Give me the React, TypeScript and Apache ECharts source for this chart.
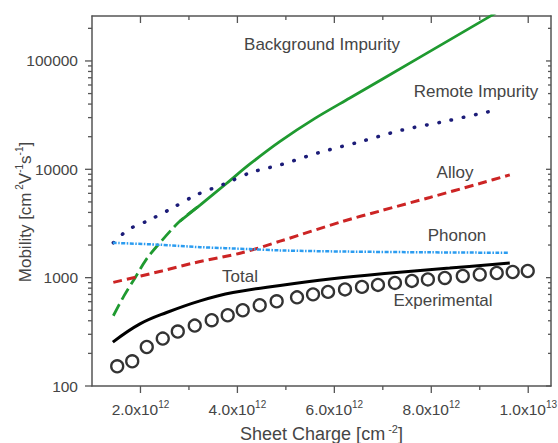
import React, { useEffect, useRef } from 'react';
import * as echarts from 'echarts';

// Axis extents (sheet charge in units of 1e12 cm^-2, mobility in cm^2/Vs)
const X_MIN = 1;
const X_MAX = 10.47;
const Y_MIN = 100;
const Y_MAX = 260000;

// Tick values and labels
const xMajorTicks = [2, 4, 6, 8, 10];
const xMinorTicks = [3, 5, 7, 9];
const xTickMantissa = ['2.0', '4.0', '6.0', '8.0', '1.0'];
const xTickExponent = ['12', '12', '12', '12', '13'];
const yMajorTicks = [100, 1000, 10000, 100000];
const yMinorTicks = [
  200, 300, 400, 500, 600, 700, 800, 900,
  2000, 3000, 4000, 5000, 6000, 7000, 8000, 9000,
  20000, 30000, 40000, 50000, 60000, 70000, 80000, 90000,
  200000,
];

// Experimental (circles)
const expCharge = [1.52, 1.83, 2.13, 2.46, 2.77, 3.12, 3.47, 3.80, 4.11, 4.46, 4.81, 5.23, 5.56, 5.87, 6.22, 6.57, 6.90, 7.25, 7.60, 7.93, 8.28, 8.65, 9.00, 9.35, 9.68, 9.99];
const expMobility = [152, 169, 229, 274, 318, 361, 405, 450, 500, 556, 605, 658, 701, 739, 779, 822, 857, 894, 933, 963, 994, 1037, 1070, 1104, 1128, 1152];

// Total
const totalCharge = [1.43, 1.99, 2.54, 3.23, 3.91, 4.88, 5.91, 7.04, 8.38, 9.62];
const totalMobility = [254, 374, 477, 611, 729, 848, 973, 1093, 1227, 1364];

// Phonon
const phononCharge = [1.43, 2.36, 3.23, 4.26, 4.88, 6.32, 7.97, 9.58];
const phononMobility = [2095, 2017, 1912, 1834, 1784, 1739, 1713, 1696];

// Alloy
const alloyCharge = [1.44, 2.44, 3.12, 4.09, 4.88, 6.18, 6.94, 7.97, 9.0, 9.62];
const alloyMobility = [904, 1152, 1373, 1696, 2171, 3313, 4119, 5500, 7393, 8886];

// Remote impurity
const remoteCharge = [1.44, 1.75, 2.16, 2.57, 3.16, 3.72, 4.29, 4.88, 5.70, 6.53, 7.39, 8.23, 9.07, 9.34];
const remoteMobility = [2095, 2780, 3362, 4180, 5823, 7285, 9386, 10975, 14321, 17955, 22990, 27390, 33130, 35070];

// Background impurity
const bgCharge = [1.44, 1.66, 1.89, 2.11, 2.37, 2.81, 3.23, 3.78, 4.26, 4.88, 5.60, 6.32, 7.76, 9.21, 9.6];
const bgMobility = [445, 679, 1000, 1453, 2025, 3313, 4674, 7440, 11200, 18100, 29500, 45500, 108000, 258000, 330000];
const BG_DASH_END = 5; // index where the dashed part turns solid

const pairs = (xs: number[], ys: number[]) => xs.map((x, i) => [x, ys[i]]);

export default function App() {
  const ref = useRef<HTMLDivElement>(null);

  useEffect(() => {
    const chart = echarts.init(ref.current!, null, { renderer: 'svg' });
    const font = 'Arial, "Liberation Sans", Helvetica, sans-serif';
    const textColor = '#454545';
    const frame = '#555555';

    const xTickData = [
      ...xMajorTicks.map((v) => [v, Y_MIN, 1]),
      ...xMinorTicks.map((v) => [v, Y_MIN, 0]),
    ];
    const yTickData = [
      ...yMajorTicks.map((v) => [X_MIN, v, 1]),
      ...yMinorTicks.map((v) => [X_MIN, v, 0]),
    ];
    const tickStyle = { stroke: frame, lineWidth: 1.3 };

    const bgData = pairs(bgCharge, bgMobility);

    const annotation = (text: string, x: number, y: number) => ({
      type: 'text',
      x,
      y,
      z: 100,
      style: {
        text,
        fill: textColor,
        font: `17px ${font}`,
        align: 'center',
        verticalAlign: 'middle',
      },
    });

    const nameRich = {
      a: { fontSize: 18, fontFamily: font, color: textColor, lineHeight: 22 },
      s: { fontSize: 11, fontFamily: font, color: textColor, lineHeight: 12, verticalAlign: 'top' },
    };

    const option: any = {
      animation: false,
      grid: {
        left: 92,
        top: 16,
        width: 459,
        height: 370,
        containLabel: false,
        outerBoundsMode: 'none',
      },
      xAxis: [
        {
          type: 'value',
          min: X_MIN,
          max: X_MAX,
          interval: 1,
          position: 'bottom',
          axisLine: { show: true, lineStyle: { color: frame, width: 1.5 } },
          axisTick: { show: false },
          splitLine: { show: false },
          axisLabel: {
            margin: 13,
            fontFamily: font,
            color: textColor,
            formatter: (v: number) => {
              const r = Math.round(v);
              if (Math.abs(v - r) > 1e-6) return '';
              const i = xMajorTicks.indexOf(r);
              if (i < 0) return '';
              return `{a|${xTickMantissa[i]}x10}{s|${xTickExponent[i]}}`;
            },
            rich: {
              a: { fontSize: 15.5, fontFamily: font, color: textColor, lineHeight: 20 },
              s: { fontSize: 10, fontFamily: font, color: textColor, lineHeight: 12, verticalAlign: 'top' },
            },
          },
          name: '{a|Sheet Charge [cm}{s| -2}{a|]}',
          nameLocation: 'middle',
          nameGap: 37,
          nameTextStyle: { rich: nameRich },
        },
        {
          type: 'value',
          min: X_MIN,
          max: X_MAX,
          position: 'top',
          axisLine: { show: true, lineStyle: { color: frame, width: 1.5 } },
          axisTick: { show: false },
          axisLabel: { show: false },
          splitLine: { show: false },
        },
      ],
      yAxis: [
        {
          type: 'log',
          logBase: 10,
          min: Y_MIN,
          max: Y_MAX,
          position: 'left',
          axisLine: { show: true, lineStyle: { color: frame, width: 1.5 } },
          axisTick: { show: false },
          splitLine: { show: false },
          axisLabel: {
            margin: 14,
            fontSize: 15.5,
            fontFamily: font,
            color: textColor,
            formatter: (v: number) => {
              const hit = yMajorTicks.find((t) => Math.abs(t - v) / t < 1e-6);
              return hit ? String(hit) : '';
            },
          },
        },
        {
          type: 'log',
          logBase: 10,
          min: Y_MIN,
          max: Y_MAX,
          position: 'right',
          axisLine: { show: true, lineStyle: { color: frame, width: 1.5 } },
          axisTick: { show: false },
          axisLabel: { show: false },
          splitLine: { show: false },
        },
      ],
      graphic: [
        {
          type: 'text',
          x: 25,
          y: 212,
          rotation: Math.PI / 2,
          z: 100,
          style: {
            text: '{a|Mobility [cm}{s| 2}{a|V}{s|-1}{a|s}{s|-1}{a|]}',
            align: 'center',
            verticalAlign: 'middle',
            rich: {
              a: { fontSize: 17, fontFamily: font, fill: textColor, lineHeight: 21 },
              s: { fontSize: 10, fontFamily: font, fill: textColor, lineHeight: 11, verticalAlign: 'top' },
            },
          },
        },
        annotation('Background Impurity', 322, 44),
        annotation('Remote Impurity', 476, 91),
        annotation('Alloy', 455, 172),
        annotation('Phonon', 457, 235),
        annotation('Total', 240, 276),
        annotation('Experimental', 443, 300),
      ],
      series: [
        {
          name: 'x ticks',
          type: 'custom',
          clip: false,
          silent: true,
          dimensions: ['x', 'y', 'major'],
          encode: { x: 0, y: 1 },
          data: xTickData,
          renderItem: (params: any, api: any) => {
            const v = api.value(0);
            const major = api.value(2) === 1;
            const b = api.coord([v, Y_MIN]);
            const t = api.coord([v, Y_MAX]);
            const len = major ? 7 : 4;
            return {
              type: 'group',
              children: [
                { type: 'line', shape: { x1: b[0], y1: b[1], x2: b[0], y2: b[1] + len }, style: tickStyle },
                { type: 'line', shape: { x1: t[0], y1: t[1], x2: t[0], y2: t[1] + len }, style: tickStyle },
              ],
            };
          },
        },
        {
          name: 'y ticks',
          type: 'custom',
          clip: false,
          silent: true,
          dimensions: ['x', 'y', 'major'],
          encode: { x: 0, y: 1 },
          data: yTickData,
          renderItem: (params: any, api: any) => {
            const v = api.value(1);
            const major = api.value(2) === 1;
            const l = api.coord([X_MIN, v]);
            const r = api.coord([X_MAX, v]);
            const lenL = major ? 7 : 4;
            const lenR = major ? 5 : 3;
            return {
              type: 'group',
              children: [
                { type: 'line', shape: { x1: l[0] - lenL, y1: l[1], x2: l[0], y2: l[1] }, style: tickStyle },
                { type: 'line', shape: { x1: r[0] - lenR, y1: r[1], x2: r[0], y2: r[1] }, style: tickStyle },
              ],
            };
          },
        },
        {
          name: 'Background Impurity (dashed)',
          type: 'line',
          data: bgData.slice(0, BG_DASH_END + 2),
          smooth: 0.3,
          showSymbol: false,
          lineStyle: { color: '#1f9a30', width: 2.8, type: [13, 5] },
          z: 3,
        },
        {
          name: 'Background Impurity',
          type: 'line',
          data: bgData.slice(BG_DASH_END),
          smooth: 0.3,
          showSymbol: false,
          lineStyle: { color: '#1f9a30', width: 2.8 },
          z: 3,
        },
        {
          name: 'Remote Impurity',
          type: 'line',
          data: pairs(remoteCharge, remoteMobility),
          smooth: 0.3,
          showSymbol: false,
          lineStyle: { color: '#1c1c78', width: 3.5, type: [0.5, 12], cap: 'round' },
          z: 3,
        },
        {
          name: 'Alloy',
          type: 'line',
          data: pairs(alloyCharge, alloyMobility),
          smooth: 0.3,
          showSymbol: false,
          lineStyle: { color: '#cc2424', width: 3, type: [9, 5] },
          z: 3,
        },
        {
          name: 'Phonon',
          type: 'line',
          data: pairs(phononCharge, phononMobility),
          smooth: 0.3,
          showSymbol: false,
          lineStyle: { color: '#2b9cf0', width: 2.5, type: [4, 1.5, 1.5, 1.5] },
          z: 3,
        },
        {
          name: 'Total',
          type: 'line',
          data: pairs(totalCharge, totalMobility),
          smooth: 0.4,
          showSymbol: false,
          lineStyle: { color: '#000000', width: 3 },
          z: 4,
        },
        {
          name: 'Experimental',
          type: 'scatter',
          data: pairs(expCharge, expMobility),
          symbol: 'circle',
          symbolSize: 12,
          itemStyle: { color: 'rgba(255,255,255,0)', borderColor: '#000000', borderWidth: 2.3 },
          z: 5,
        },
      ],
    };

    chart.setOption(option);
    return () => chart.dispose();
  }, []);

  return (
    <div
      ref={ref}
      style={{ position: 'fixed', left: 0, top: 0, width: 558, height: 443, background: '#ffffff' }}
    />
  );
}
